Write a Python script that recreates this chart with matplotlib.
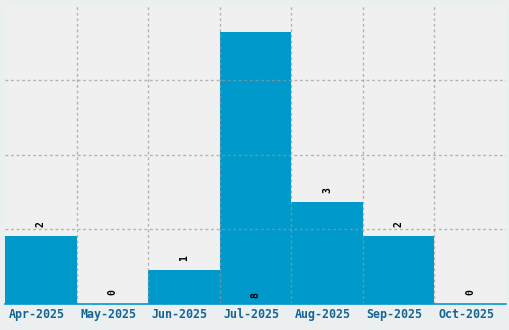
import matplotlib
matplotlib.use("Agg")
import matplotlib.pyplot as plt
import matplotlib.transforms as mtransforms
import numpy as np

categories = ["Apr-2025", "May-2025", "Jun-2025", "Jul-2025", "Aug-2025", "Sep-2025", "Oct-2025"]
values = [2, 0, 1, 8, 3, 2, 0]

W, H = 510, 330
fig = plt.figure(figsize=(W / 100, H / 100), dpi=100, facecolor="#eceff0")
ax = fig.add_axes([5 / W, (H - 304) / H, (506 - 5) / W, (304 - 5) / H])
ax.set_facecolor("#f0f0f0")

x = np.arange(len(categories))
ax.bar(x, values, width=1.0, color="#0099cc", zorder=1, linewidth=0)

ymax = 8.8
ax.set_xlim(-0.5, len(categories) - 0.5)
ax.set_ylim(0, ymax)

# grid
for b in np.arange(0.5, len(categories) - 0.5, 1.0):
    ax.axvline(b, color="#999999", linestyle=(0, (2, 2)), linewidth=1, zorder=2, alpha=0.7)
for yv in [2.2, 4.4, 6.6]:
    ax.axhline(yv, color="#999999", linestyle=(0, (2, 2)), linewidth=1, zorder=2, alpha=0.7)

for s in ["top", "left", "right"]:
    ax.spines[s].set_visible(False)
ax.spines["bottom"].set_color("#0099cc")
ax.spines["bottom"].set_linewidth(1.2)
ax.set_yticks([])
ax.set_xticks(x)
ax.set_xticklabels(categories, family="DejaVu Sans Mono", fontweight="bold", fontsize=8.4, color="#146496")
ax.tick_params(axis="x", length=0, pad=3)
offset = mtransforms.ScaledTranslation(-4 / 100, 0, fig.dpi_scale_trans)
for lbl in ax.get_xticklabels():
    lbl.set_transform(lbl.get_transform() + offset)

for xi, v in zip(x, values):
    if v >= ymax - 1:
        ax.text(xi, 0.25, str(v), rotation=90, ha="center", va="center",
                family="DejaVu Sans Mono", fontweight="bold", fontsize=7, color="black", zorder=3)
    else:
        ax.annotate(str(v), (xi, v), xytext=(0, 12), textcoords="offset pixels",
                    rotation=90, ha="center", va="center",
                    family="DejaVu Sans Mono", fontweight="bold", fontsize=7, color="black", zorder=3)

fig.savefig("out.png", dpi=100, facecolor=fig.get_facecolor())
